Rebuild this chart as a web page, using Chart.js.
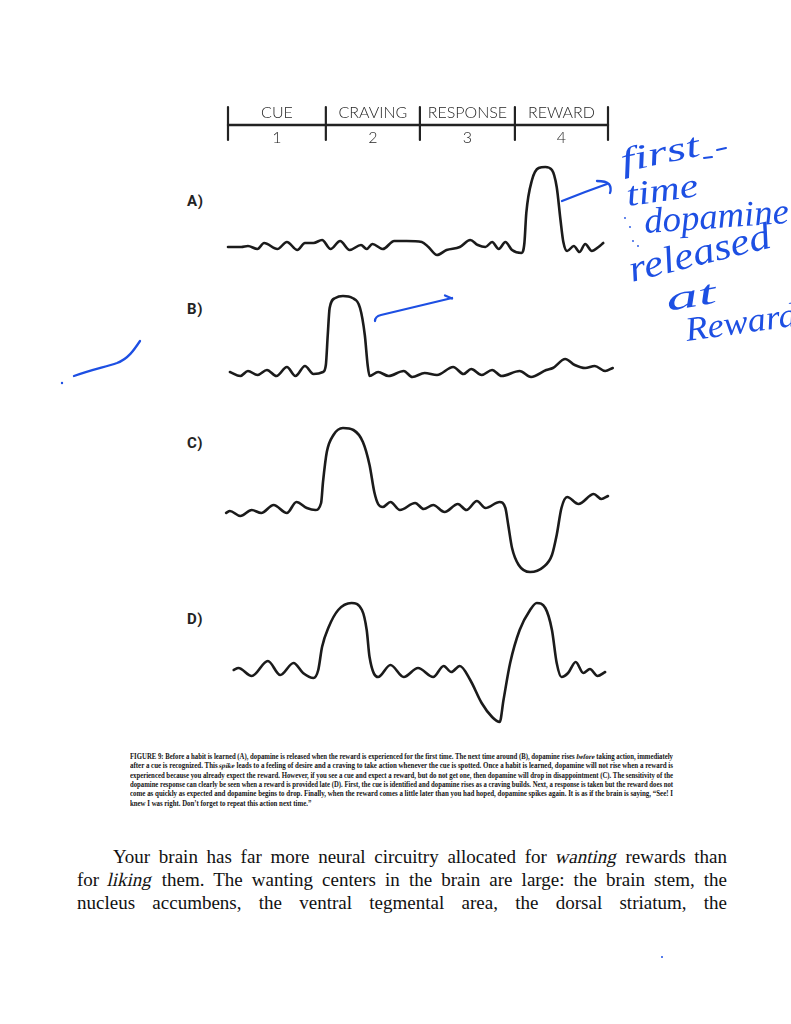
<!DOCTYPE html>
<html>
<head>
<meta charset="utf-8">
<script src="https://cdn.jsdelivr.net/npm/chart.js@4.4.0/dist/chart.umd.min.js"></script>
<style>
  html,body{margin:0;padding:0;background:#fff;}
  body{width:791px;height:1024px;overflow:hidden;position:relative;}
  .abs{position:absolute;}
  canvas.panel{position:absolute;}
  .plabel{position:absolute;font-family:Roboto,"DejaVu Sans",sans-serif;font-weight:700;font-size:15px;color:#232323;letter-spacing:0.6px;}
  .cap{position:absolute;left:130px;width:543px;height:10px;font-family:"Liberation Serif",serif;font-weight:700;font-size:7.2px;line-height:9px;color:#151515;white-space:nowrap;}
  .body{position:absolute;font-family:"Liberation Serif",serif;font-size:19px;line-height:23px;color:#111;white-space:nowrap;}
  .cap > span,.body > span{display:inline-block;white-space:nowrap;transform-origin:0 0;}
  .it{display:inline-block;font-style:normal;transform:skewX(-13deg);}
</style>
</head>
<body>

<!-- header (stage axis) and the four panels -->
<canvas id="hdr" class="panel" width="400" height="52" style="left:218px;top:98px"></canvas>
<canvas id="pA" class="panel" width="400" height="120" style="left:218px;top:150px"></canvas>
<canvas id="pB" class="panel" width="400" height="110" style="left:218px;top:280px"></canvas>
<canvas id="pC" class="panel" width="400" height="170" style="left:218px;top:415px"></canvas>
<canvas id="pD" class="panel" width="400" height="150" style="left:218px;top:590px"></canvas>

<div class="plabel" style="left:187px;top:192px">A)</div>
<div class="plabel" style="left:187px;top:300px">B)</div>
<div class="plabel" style="left:187px;top:434px">C)</div>
<div class="plabel" style="left:187px;top:610px">D)</div>

<!-- caption -->
<div class="cap just" style="top:753px"><span>FIGURE 9: Before a habit is learned (A), dopamine is released when the reward is experienced for the first time. The next time around (B), dopamine rises <span class="it">before</span> taking action, immediately</span></div>
<div class="cap just" style="top:762.3px"><span>after a cue is recognized. This <span class="it">spike</span> leads to a feeling of desire and a craving to take action whenever the cue is spotted. Once a habit is learned, dopamine will not rise when a reward is</span></div>
<div class="cap just" style="top:771.6px"><span>experienced because you already expect the reward. However, if you see a cue and expect a reward, but do not get one, then dopamine will drop in disappointment (C). The sensitivity of the</span></div>
<div class="cap just" style="top:780.9px"><span>dopamine response can clearly be seen when a reward is provided late (D). First, the cue is identified and dopamine rises as a craving builds. Next, a response is taken but the reward does not</span></div>
<div class="cap just" style="top:790.2px"><span>come as quickly as expected and dopamine begins to drop. Finally, when the reward comes a little later than you had hoped, dopamine spikes again. It is as if the brain is saying, “See! I</span></div>
<div class="cap last" style="top:799.5px"><span>knew I was right. Don’t forget to repeat this action next time.”</span></div>

<!-- body text -->
<div class="body just" data-w="614" style="left:113px;top:845px"><span>Your brain has far more neural circuitry allocated for <span class="it">wanting</span> rewards than</span></div>
<div class="body just" data-w="650" style="left:77px;top:868px"><span>for <span class="it">liking</span> them. The wanting centers in the brain are large: the brain stem, the</span></div>
<div class="body just" data-w="650" style="left:77px;top:891px"><span>nucleus accumbens, the ventral tegmental area, the dorsal striatum, the</span></div>

<!-- handwritten blue annotations -->
<svg class="abs" style="left:0;top:0;pointer-events:none" width="791" height="1024">
  <g fill="none" stroke="#1d4fe3" stroke-width="2.3" stroke-linecap="round" stroke-linejoin="round">
    <path d="M562,201 C572,197 590,190 607,184"/>
    <path d="M597,181 C602,181 607,182 609,184 C611,187 611,190 610,193"/>
    <path d="M375,321 C375,318 377,316 381,315 L452,298"/>
    <path d="M445,295.5 L452,298.5"/>
    <path d="M74,376 C90,370 105,367 117,363 C128,359 134,350 140,341"/>
    <path d="M704,158 L712,157 M717,150 L726,148" stroke-width="2"/>
  </g>
  <g fill="#1d4fe3">
    <circle cx="62" cy="383" r="1.2"/>
    <circle cx="662" cy="957" r="1"/>
    <circle cx="625" cy="218" r="0.9"/>
    <circle cx="630" cy="227" r="0.9"/>
    <circle cx="633" cy="241" r="0.9"/>
    <circle cx="638" cy="246" r="0.9"/>
  </g>
  <g fill="#1d4fe3" font-family="'Liberation Serif',serif" font-style="italic">
    <text x="623" y="172" font-size="34" textLength="80" lengthAdjust="spacingAndGlyphs" transform="rotate(-12 623 172)">first</text>
    <text x="628" y="206" font-size="34" textLength="72" lengthAdjust="spacingAndGlyphs" transform="rotate(-8 628 206)">time</text>
    <text x="645" y="233" font-size="36" textLength="145" lengthAdjust="spacingAndGlyphs" transform="rotate(-4 645 233)">dopamine</text>
    <text x="632" y="282" font-size="38" textLength="145" lengthAdjust="spacingAndGlyphs" transform="rotate(-14 632 282)">released</text>
    <text x="668" y="311" font-size="34" textLength="50" lengthAdjust="spacingAndGlyphs" transform="rotate(-10 668 311)">at</text>
    <text x="687" y="341" font-size="34" textLength="112" lengthAdjust="spacingAndGlyphs" transform="rotate(-8 687 341)">Reward</text>
  </g>
</svg>

<script>
// ---------- data ----------
const stages = ['CUE', 'CRAVING', 'RESPONSE', 'REWARD'];
const stageNumbers = ['1', '2', '3', '4'];
const stageBounds = [0, 1.03, 2.02, 3.02, 4];

// time in stage units (0 = start of CUE, 4 = end of REWARD), level = relative dopamine
const timeA  = [0.00,0.14,0.21,0.31,0.38,0.52,0.62,0.73,0.81,0.90,0.99,1.08,1.18,1.28,1.40,1.46,1.52,1.63,1.75,1.88,2.04,2.11,2.20,2.30,2.44,2.55,2.63,2.71,2.78,2.85,2.92,2.99,3.09,3.12,3.14,3.20,3.27,3.34,3.41,3.46,3.50,3.53,3.57,3.64,3.70,3.76,3.83,3.90,3.95];
const levelA = [0,0,1,-2,4,-2,5,-3,4,4,7,-2,6,-3,2,-2,3,-2,6,6,5,0,-8,-3,0,7,2,0,5,-2,5,-3,-6,4,34,67,79,80,77,60,27,5,-4,1,-5,3,-4,0,4];

const timeB  = [0.02,0.13,0.21,0.31,0.41,0.51,0.62,0.71,0.81,0.90,1.00,1.03,1.05,1.07,1.13,1.21,1.31,1.39,1.44,1.47,1.49,1.58,1.69,1.85,1.94,2.07,2.20,2.37,2.48,2.56,2.67,2.78,2.88,3.07,3.19,3.35,3.42,3.55,3.65,3.76,3.86,3.97,4.05];
const levelB = [1,-3,2,-2,3,-3,6,-3,7,-1,1,8,38,65,75,77,75,65,38,8,-3,1,-3,2,-4,0,-2,6,-1,4,-2,3,-3,2,-4,3,5,14,8,5,7,2,5];

const timeC  = [-0.02,0.02,0.13,0.25,0.35,0.48,0.62,0.72,0.83,0.92,0.98,1.00,1.04,1.11,1.21,1.32,1.42,1.49,1.54,1.58,1.63,1.71,1.81,1.97,2.06,2.16,2.28,2.42,2.51,2.62,2.71,2.86,2.92,2.95,2.99,3.06,3.18,3.32,3.41,3.46,3.51,3.57,3.69,3.85,3.93,4.00];
const levelC = [-3,-1,-6,0,-3,5,-3,8,2,0,7,28,58,75,82,80,68,45,18,6,3,8,0,7,1,5,-2,6,0,9,2,8,2,-15,-38,-55,-62,-57,-45,-25,2,13,6,16,11,14];

const timeD  = [0.06,0.11,0.25,0.42,0.55,0.69,0.79,0.90,0.95,0.99,1.06,1.16,1.30,1.41,1.46,1.49,1.58,1.71,1.85,2.00,2.16,2.27,2.35,2.44,2.55,2.67,2.78,2.86,2.90,2.97,3.07,3.18,3.25,3.34,3.41,3.46,3.51,3.58,3.66,3.74,3.81,3.89,3.97];
const levelD = [2,4,-4,11,-3,9,-1,-6,2,25,45,62,69,62,42,15,-5,7,-5,4,-5,6,0,6,-8,-31,-45,-50,-28,9,42,62,69,64,42,9,-5,-1,10,-1,3,-4,0];

// ---------- charts ----------
const PAD = {left:10, right:10, top:10, bottom:10};

function baseOptions(yMin, yMax) {
  return {
    responsive: false,
    animation: false,
    events: [],
    layout: { padding: PAD },
    plugins: { legend: { display: false }, tooltip: { enabled: false } },
    scales: {
      x: { type: 'linear', min: 0, max: 4, display: false },
      y: { type: 'linear', min: yMin, max: yMax, display: false }
    }
  };
}

function makePanel(id, times, levels, yMin, yMax) {
  new Chart(document.getElementById(id), {
    type: 'line',
    data: {
      datasets: [{
        data: times.map((t, i) => ({ x: t, y: levels[i] })),
        borderColor: '#1b1b1b',
        borderWidth: 2.6,
        pointRadius: 0,
        cubicInterpolationMode: 'monotone',
        borderCapStyle: 'round',
        borderJoinStyle: 'round',
        fill: false,
        clip: false
      }]
    },
    options: baseOptions(yMin, yMax)
  });
}

const headerPlugin = {
  id: 'stageHeader',
  afterDraw(chart) {
    const { ctx, scales: { x } } = chart;
    const yLine = 27;
    ctx.save();
    ctx.strokeStyle = '#222';
    ctx.lineCap = 'round';
    ctx.lineWidth = 2.4;
    ctx.beginPath();
    ctx.moveTo(x.getPixelForValue(stageBounds[0]), yLine);
    ctx.lineTo(x.getPixelForValue(stageBounds[stageBounds.length - 1]), yLine);
    ctx.stroke();
    ctx.lineWidth = 2.2;
    stageBounds.forEach(b => {
      const px = x.getPixelForValue(b);
      ctx.beginPath();
      ctx.moveTo(px, 9);
      ctx.lineTo(px, 42);
      ctx.stroke();
    });
    ctx.fillStyle = '#262626';
    ctx.textAlign = 'center';
    ctx.textBaseline = 'middle';
    stages.forEach((s, i) => {
      const c = (x.getPixelForValue(stageBounds[i]) + x.getPixelForValue(stageBounds[i + 1])) / 2;
      ctx.font = '300 16px Lato, "Open Sans", sans-serif';
      ctx.fillText(s, c, 15, 90);
      ctx.fillText(stageNumbers[i], c, 40);
    });
    ctx.restore();
  }
};

function fitText() {
  // justified lines: stretch spaces, or compress glyphs when too wide
  const capScales = [];
  document.querySelectorAll('.just').forEach(el => {
    const span = el.firstElementChild;
    const target = el.dataset.w ? parseFloat(el.dataset.w) : el.clientWidth;
    const w = span.getBoundingClientRect().width;
    const spaces = (span.textContent.match(/ /g) || []).length || 1;
    if (w < target) {
      span.style.wordSpacing = ((target - w) / spaces) + 'px';
      if (el.classList.contains('cap')) capScales.push(1);
    } else {
      const s = target / w;
      span.style.transform = 'scaleX(' + s + ')';
      if (el.classList.contains('cap')) capScales.push(s);
    }
  });
  const avg = capScales.length ? capScales.reduce((a, b) => a + b, 0) / capScales.length : 1;
  document.querySelectorAll('.last').forEach(el => {
    el.firstElementChild.style.transform = 'scaleX(' + Math.min(1, avg) + ')';
  });
}

function build() {
  new Chart(document.getElementById('hdr'), {
    type: 'line',
    data: { datasets: [] },
    options: baseOptions(0, 1),
    plugins: [headerPlugin]
  });
  makePanel('pA', timeA, levelA, -13, 87);
  makePanel('pB', timeB, levelB, -7, 83);
  makePanel('pC', timeC, levelC, -65, 85);
  makePanel('pD', timeD, levelD, -58, 72);
  fitText();
}

if (document.fonts && document.fonts.ready) {
  document.fonts.ready.then(build);
} else {
  window.addEventListener('load', build);
}
</script>
</body>
</html>
